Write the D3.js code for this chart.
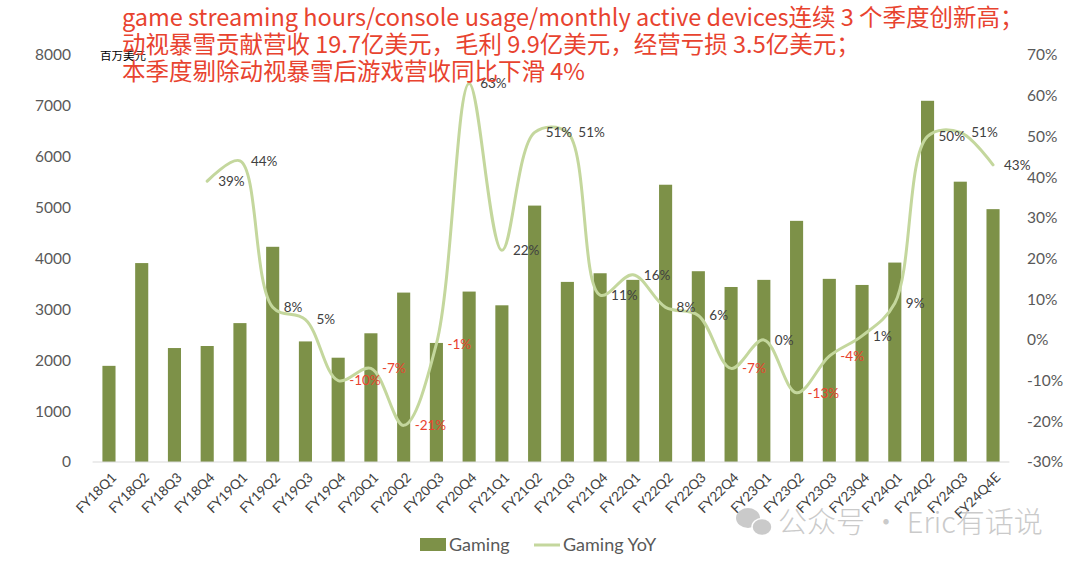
<!DOCTYPE html>
<html>
<head>
<meta charset="utf-8">
<script src="https://cdn.jsdelivr.net/npm/d3@7"></script>
<style>
  body { margin: 0; background: #fff; }
  svg { display: block; }
</style>
</head>
<body>
<div id="chart"></div>
<script>
// quarters
var quarters = ["FY18Q1","FY18Q2","FY18Q3","FY18Q4","FY19Q1","FY19Q2","FY19Q3","FY19Q4",
  "FY20Q1","FY20Q2","FY20Q3","FY20Q4","FY21Q1","FY21Q2","FY21Q3","FY21Q4",
  "FY22Q1","FY22Q2","FY22Q3","FY22Q4","FY23Q1","FY23Q2","FY23Q3","FY23Q4",
  "FY24Q1","FY24Q2","FY24Q3","FY24Q4E"];
// gaming revenue, $M
var gaming = [1890,3910,2240,2280,2730,4230,2370,2050,2530,3330,2340,3350,3080,5040,
  3540,3710,3580,5450,3750,3440,3580,4740,3600,3480,3920,7100,5510,4970];
// YoY growth, % (starts at FY18Q4)
var yoyQuarters = quarters.slice(3);
var yoy = [39,44,8,5,-10,-7,-21,-1,63,22,51,51,11,16,8,6,-7,0,-13,-4,1,9,50,51,43];
var leftTicks = [0,1000,2000,3000,4000,5000,6000,7000,8000];
var rightTicks = [-30,-20,-10,0,10,20,30,40,50,60,70];
var titleLines = [
  "game streaming hours/console usage/monthly active devices连续 3 个季度创新高；",
  "动视暴雪贡献营收 19.7亿美元，毛利 9.9亿美元，经营亏损 3.5亿美元；",
  "本季度剔除动视暴雪后游戏营收同比下滑 4%"
];

var W = 1080, H = 569;
var plotTop = 55, plotBottom = 462, plotLeft = 92.6, plotRight = 1009.4;
var barColor = "#7d9148", lineColor = "#c4d79d", red = "#e8432f";
var font = "Lato, 'Noto Sans', sans-serif";

var svg = d3.select("#chart").append("svg")
  .attr("width", W).attr("height", H);

var x = d3.scaleBand().domain(quarters).range([plotLeft, plotRight])
  .paddingInner(0.6).paddingOuter(0.3);
var y = d3.scaleLinear().domain([0, 8000]).range([plotBottom, plotTop]);
var y2 = d3.scaleLinear().domain([-30, 70]).range([plotBottom, plotTop]);

// bars
svg.selectAll("rect.bar").data(gaming).enter().append("rect")
  .attr("class", "bar")
  .attr("x", function(d, i) { return x(quarters[i]); })
  .attr("y", function(d) { return y(d); })
  .attr("width", x.bandwidth())
  .attr("height", function(d) { return y(0) - y(d); })
  .attr("fill", barColor);

// bottom axis line
svg.append("line")
  .attr("x1", plotLeft).attr("x2", plotRight)
  .attr("y1", plotBottom).attr("y2", plotBottom)
  .attr("stroke", "#d9d9d9").attr("stroke-width", 1);

// left axis labels
var yAxis = d3.axisLeft(y).tickValues(leftTicks).tickSize(0).tickPadding(0)
  .tickFormat(d3.format("d"));
svg.append("g").attr("transform", "translate(71,0)").call(yAxis)
  .call(function(g) { g.select(".domain").remove(); })
  .selectAll("text").attr("fill", "#595959")
  .style("font-family", font).style("font-size", "15.5px");

// right axis labels
var y2Axis = d3.axisRight(y2).tickValues(rightTicks).tickSize(0).tickPadding(0)
  .tickFormat(function(d) { return d + "%"; });
svg.append("g").attr("transform", "translate(1027,0)").call(y2Axis)
  .call(function(g) { g.select(".domain").remove(); })
  .selectAll("text").attr("fill", "#595959")
  .style("font-family", font).style("font-size", "15.5px");

// x labels
svg.append("g").selectAll("text").data(quarters).enter().append("text")
  .attr("transform", function(d) {
    return "translate(" + (x(d) + x.bandwidth() / 2 + 5) + "," + 475 + ") rotate(-45)";
  })
  .attr("text-anchor", "end")
  .attr("dy", "0.35em")
  .attr("fill", "#404040")
  .style("font-family", font).style("font-size", "13.5px")
  .text(function(d) { return d; });

// YoY line
var line = d3.line()
  .x(function(d, i) { return x(yoyQuarters[i]) + x.bandwidth() / 2; })
  .y(function(d) { return y2(d); })
  .curve(d3.curveCatmullRom.alpha(0.5));

svg.append("path").datum(yoy)
  .attr("d", line)
  .attr("fill", "none")
  .attr("stroke", lineColor)
  .attr("stroke-width", 3)
  .attr("stroke-linecap", "round");

// YoY labels
svg.append("g").selectAll("text").data(yoy).enter().append("text")
  .attr("x", function(d, i) { return x(yoyQuarters[i]) + x.bandwidth() / 2 + 11; })
  .attr("y", function(d) { return y2(d); })
  .attr("dy", "0.35em")
  .attr("fill", function(d) { return d < 0 ? red : "#404040"; })
  .style("font-family", font).style("font-size", "13.5px")
  .text(function(d) { return d + "%"; });

// unit label
svg.append("text")
  .attr("x", 100).attr("y", 60)
  .attr("fill", "#000")
  .style("font-family", "'Noto Sans CJK SC', sans-serif").style("font-size", "11.5px")
  .text("百万美元");

// title
svg.append("g").selectAll("text").data(titleLines).enter().append("text")
  .attr("x", 122)
  .attr("y", function(d, i) { return 26 + i * 27; })
  .attr("fill", red)
  .style("font-family", "'Noto Sans CJK SC', sans-serif").style("font-size", "23.5px")
  .text(function(d) { return d; });

// legend
var lg = svg.append("g").attr("transform", "translate(0,545)");
lg.append("rect").attr("x", 420).attr("y", -7).attr("width", 26).attr("height", 13)
  .attr("fill", barColor);
lg.append("text").attr("x", 449).attr("y", 0).attr("dy", "0.35em")
  .attr("fill", "#595959").style("font-family", font).style("font-size", "18px")
  .text("Gaming");
lg.append("line").attr("x1", 534).attr("x2", 560).attr("y1", 0).attr("y2", 0)
  .attr("stroke", lineColor).attr("stroke-width", 3);
lg.append("text").attr("x", 563).attr("y", 0).attr("dy", "0.35em")
  .attr("fill", "#595959").style("font-family", font).style("font-size", "18px")
  .text("Gaming YoY");

// watermark
var wm = svg.append("g").attr("opacity", 0.45);
wm.append("ellipse").attr("cx", 748).attr("cy", 518).attr("rx", 12).attr("ry", 10).attr("fill", "#8c8c8c");
wm.append("ellipse").attr("cx", 762).attr("cy", 527).attr("rx", 10).attr("ry", 8.5).attr("fill", "#8c8c8c")
  .attr("stroke", "#fff").attr("stroke-width", 1.5);
wm.append("text").attr("x", 778).attr("y", 533)
  .attr("fill", "#8c8c8c")
  .style("font-family", "'Noto Sans CJK SC', sans-serif").style("font-size", "29px")
  .style("font-weight", 300)
  .text("公众号 · Eric有话说");
</script>
</body>
</html>
